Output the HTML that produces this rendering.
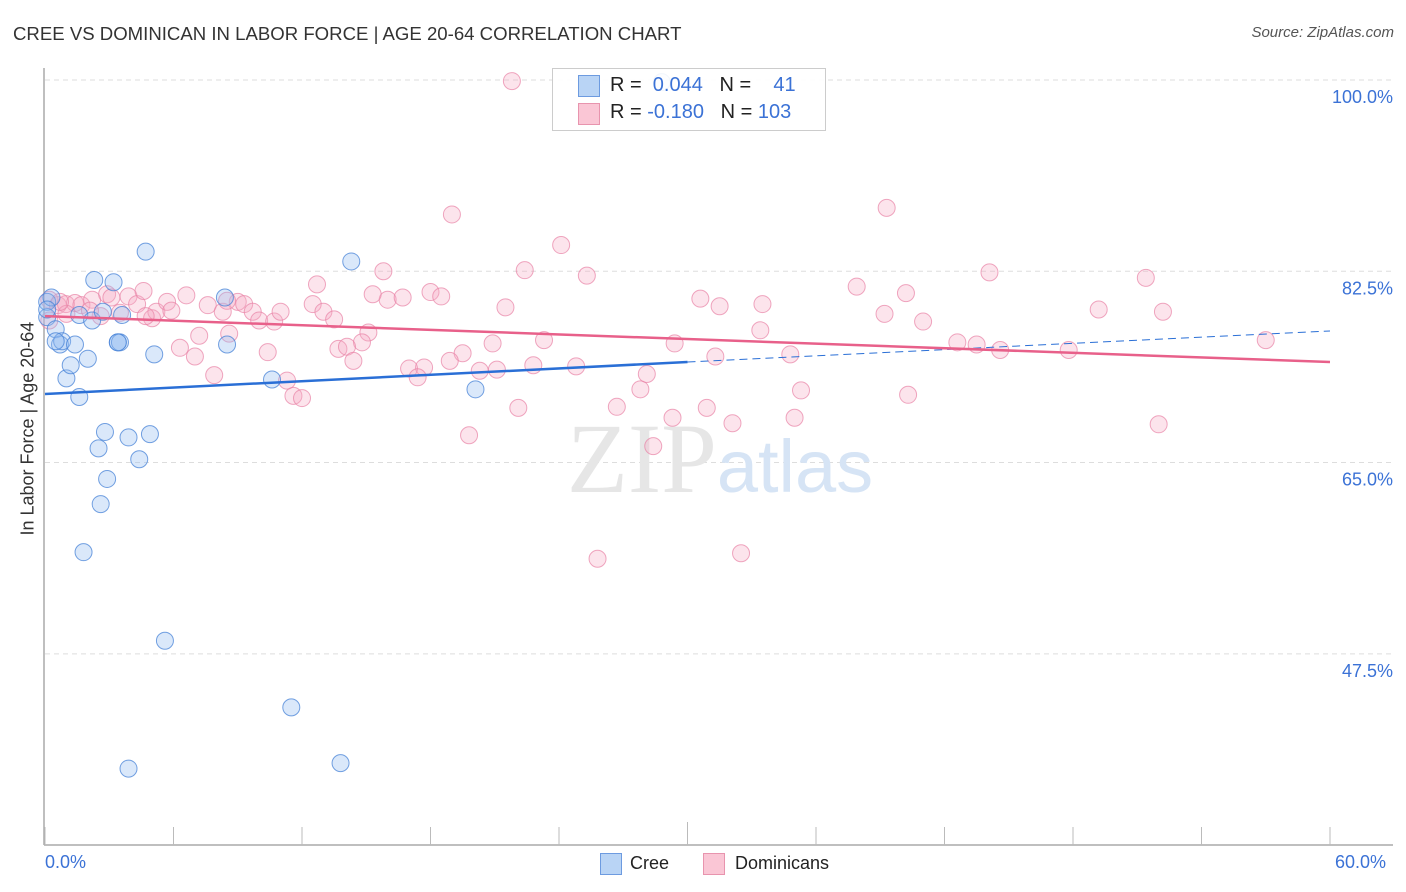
<!DOCTYPE html>
<html><head><meta charset="utf-8"><style>
body{margin:0;background:#fff;font-family:"Liberation Sans",sans-serif;}
#wrap{position:relative;width:1406px;height:892px;overflow:hidden;}
.t{position:absolute;white-space:nowrap;}
</style></head><body>
<div id="wrap">
<div class="t" style="left:13px;top:23px;font-size:18.6px;color:#333">CREE VS DOMINICAN IN LABOR FORCE | AGE 20-64 CORRELATION CHART</div>
<div class="t" style="right:12px;top:24px;font-size:15px;color:#555;font-style:italic">Source: ZipAtlas.com</div>
<div class="t" style="left:-52px;top:445px;font-size:18px;color:#333;transform:rotate(-90deg);transform-origin:center;width:160px;text-align:center">In Labor Force | Age 20-64</div>
<svg id="svg" width="1406" height="892" style="position:absolute;left:0;top:0"></svg>
<div class="t" style="left:552px;top:68px;width:272px;height:61px;border:1px solid #ccc;background:rgba(255,255,255,0.9)"></div>
<div class="t" style="left:578px;top:75px;width:20px;height:20px;background:#b9d4f5;border:1px solid #6d9be0"></div>
<div class="t" style="left:578px;top:103px;width:20px;height:20px;background:#fac6d5;border:1px solid #e894ae"></div>
<div class="t" style="left:610px;top:74px;font-size:20px;color:#222">R = <span style="color:#3b72d6">&nbsp;0.044</span>&nbsp;&nbsp;&nbsp;N = <span style="color:#3b72d6">&nbsp;&nbsp;&nbsp;41</span></div>
<div class="t" style="left:610px;top:101px;font-size:20px;color:#222">R = <span style="color:#3b72d6">-0.180</span>&nbsp;&nbsp;&nbsp;N = <span style="color:#3b72d6">103</span></div>
<div class="t" style="left:45px;top:852px;font-size:18px;color:#3b72d6">0.0%</div>
<div class="t" style="left:1335px;top:852px;font-size:18px;color:#3b72d6">60.0%</div>
<div class="t" style="left:600px;top:853px;width:20px;height:20px;background:#b9d4f5;border:1px solid #6d9be0"></div>
<div class="t" style="left:630px;top:853px;font-size:18px;color:#222">Cree</div>
<div class="t" style="left:703px;top:853px;width:20px;height:20px;background:#fac6d5;border:1px solid #e894ae"></div>
<div class="t" style="left:735px;top:853px;font-size:18px;color:#222">Dominicans</div>
</div>
<script>
const yTicks=[100,82.5,65,47.5];
const creeX=[0.1,0.3,0.1,0.5,0.7,0.8,1.4,1.0,1.2,2.0,1.6,1.6,2.2,2.3,3.2,2.7,3.4,3.5,3.6,4.7,5.1,2.8,2.5,3.9,4.9,2.9,4.4,2.6,1.8,5.6,3.9,11.5,13.8,8.4,8.5,10.6,14.3,20.1,0.1,0.5,3.4,28.8];
const creeY=[79.7,80.1,78.3,77.2,75.8,76.1,75.8,72.7,73.9,74.5,71.0,78.5,78.0,81.7,81.5,78.8,76.0,76.0,78.5,84.3,74.9,67.8,66.3,67.3,67.6,63.5,65.3,61.2,56.8,48.7,37.0,42.6,37.5,80.1,75.8,72.6,83.4,71.7,79.0,76.1,76.0,99.8];
const domX=[21.8,19.0,39.3,24.1,22.4,25.3,15.8,12.7,44.1,51.4,37.9,40.2,18.0,30.6,33.5,31.5,49.2,52.2,39.2,41.0,33.4,16.0,15.3,16.7,18.5,21.5,12.5,13.0,13.5,15.1,14.8,13.7,14.1,14.4,23.3,20.9,19.5,18.9,17.0,17.7,17.4,20.3,21.1,24.8,22.8,29.4,31.3,34.8,42.6,43.5,44.6,47.8,57.0,28.1,27.8,35.3,40.3,26.7,22.1,30.9,29.3,32.1,35.0,52.0,19.8,28.4,25.8,32.5,
0.2,0.6,0.98,1.4,1.7,2.2,2.6,2.9,3.5,3.9,4.3,4.6,5.0,5.2,5.7,5.9,6.6,7.6,8.3,9.0,9.3,9.7,10.0,10.7,11.0,7.9,7.0,6.3,7.2,8.6,10.4,11.3,11.6,12.0,1.0,2.1,0.2,3.1,4.7,8.5,0.7];
const domY=[99.9,87.7,88.3,84.9,82.6,82.1,82.5,81.3,82.4,81.9,81.1,80.5,80.6,80.0,79.5,79.3,79.0,78.8,78.6,77.9,77.1,79.9,80.4,80.1,80.2,79.2,79.5,78.8,78.1,76.9,76.0,75.4,75.6,74.3,76.2,75.9,75.0,74.3,73.6,73.7,72.8,73.4,73.5,73.8,73.9,75.9,74.7,74.9,76.0,75.8,75.3,75.3,76.2,73.1,71.7,71.6,71.2,70.1,70.0,70.0,69.1,68.6,69.1,68.5,67.5,66.5,56.2,56.7,
79.9,79.4,79.5,79.6,79.4,79.9,78.4,80.4,78.7,80.2,79.5,80.7,78.2,78.8,79.7,78.9,80.3,79.4,78.8,79.7,79.5,78.8,78.0,77.9,78.8,73.0,74.7,75.5,76.6,76.8,75.1,72.5,71.1,70.9,78.6,78.9,78.0,80.1,78.4,79.8,79.7];
const creeTrend=[71.27,74.2,77.04];
const domTrend=[78.4,74.2];
const X=v=>45+v/60*1285, Y=v=>80+(100-v)*10.93;
const s=document.getElementById('svg'),NS='http://www.w3.org/2000/svg';
function mk(tag,a){const e=document.createElementNS(NS,tag);for(const k in a)e.setAttribute(k,a[k]);s.appendChild(e);return e;}
yTicks.forEach((v,i)=>{
 const g=mk('line',{x1:45,x2:1393,y1:Y(v),y2:Y(v),stroke:'#ddd','stroke-dasharray':'5,4'});
 
 
 const t=mk('text',{x:1393,y:Y(v)+23,'text-anchor':'end','font-size':18,fill:'#3b72d6','font-family':'Liberation Sans'});
 t.textContent=v.toFixed(1)+'%';
 
 
});
const ax=mk('line',{x1:44,x2:44,y1:68,y2:845,stroke:'#aaa','stroke-width':1.5});


const bx=mk('line',{x1:44,x2:1393,y1:845,y2:845,stroke:'#aaa','stroke-width':1.5});


for(let i=0;i<=10;i++){const v=i*6;const tk=mk('line',{x1:X(v),x2:X(v),y1:v==30?822:827,y2:845,stroke:'#bbb'});
 
 }
const wm=mk('text',{x:720,y:492,'text-anchor':'middle','font-size':100,'font-family':'Liberation Serif',fill:'#e6e6e6'});
wm.innerHTML='ZIP<tspan font-family="Liberation Sans" font-size="74" fill="#d6e4f5">atlas</tspan>';


function pts(xs,ys,fill,stroke,name){xs.forEach((x,i)=>{const c=mk('circle',{cx:X(x),cy:Y(ys[i]),r:8.5,fill:fill,stroke:stroke,'stroke-width':1});
 
 });}
pts(domX,domY,'rgba(246,170,195,0.32)','rgba(232,130,165,0.7)','dominicans-point');
pts(creeX,creeY,'rgba(150,190,240,0.35)','rgba(70,130,215,0.75)','cree-point');
const l1=mk('line',{x1:X(0),y1:Y(creeTrend[0]),x2:X(30),y2:Y(creeTrend[1]),stroke:'#2a6fd6','stroke-width':2.5});


const l2=mk('line',{x1:X(30),y1:Y(creeTrend[1]),x2:X(60),y2:Y(creeTrend[2]),stroke:'#2a6fd6','stroke-width':1,'stroke-dasharray':'8,5'});


const l3=mk('line',{x1:X(0),y1:Y(domTrend[0]),x2:X(60),y2:Y(domTrend[1]),stroke:'#e8608a','stroke-width':2.5});


</script>
</body></html>
